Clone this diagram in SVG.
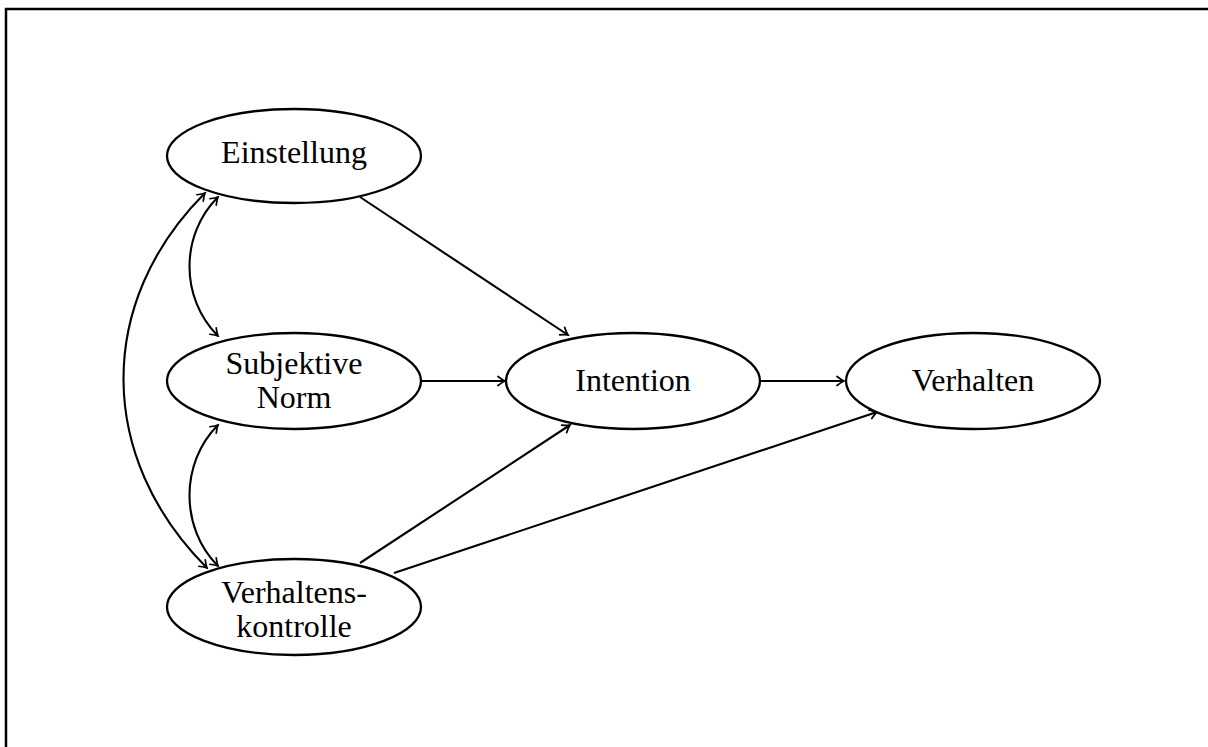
<svg xmlns="http://www.w3.org/2000/svg" width="1208" height="747" viewBox="0 0 1208 747">
<style>
.node ellipse{fill:#fff;stroke:#000;stroke-width:2.3}
.node text{font-family:"Liberation Serif","DejaVu Serif",serif;font-size:32px;fill:#000;text-anchor:middle}
.edge{fill:none;stroke:#000;stroke-width:2.1}
</style>
<defs>
<marker id="arr" markerUnits="userSpaceOnUse" viewBox="-10 -6 12 12" refX="0" refY="0" markerWidth="12" markerHeight="12" orient="auto-start-reverse">
<path d="M-7,-4.5 Q-2.5,-1 0,0 Q-2.5,1 -7,4.5" fill="none" stroke="#000" stroke-width="1.7" stroke-linecap="round"/>
</marker>
</defs>
<rect x="6" y="9" width="1220" height="760" fill="#fff" stroke="#000" stroke-width="2.5"/>
<g id="connectors">
<path class="edge" d="M360,197 L568,335" marker-end="url(#arr)"/>
<path class="edge" d="M422,381 L505,381" marker-end="url(#arr)"/>
<path class="edge" d="M761,381 L844,381" marker-end="url(#arr)"/>
<path class="edge" d="M360,563 L570,425" marker-end="url(#arr)"/>
<path class="edge" d="M394,573 L877,412" marker-end="url(#arr)"/>
<path class="edge" d="M218,197 C180,235 180,298 218,336" marker-start="url(#arr)" marker-end="url(#arr)"/>
<path class="edge" d="M218,425 C180,463 180,528 218,566" marker-start="url(#arr)" marker-end="url(#arr)"/>
<path class="edge" d="M205,193 C95,303 97,458 207,568" marker-start="url(#arr)" marker-end="url(#arr)"/>
</g>
<g id="einstellung" class="node"><ellipse cx="294" cy="156" rx="127" ry="47"/><text x="294" y="163">Einstellung</text></g>
<g id="subjektive-norm" class="node"><ellipse cx="294" cy="381" rx="127" ry="48"/><text x="294" y="374">Subjektive</text><text x="294" y="408">Norm</text></g>
<g id="verhaltenskontrolle" class="node"><ellipse cx="294" cy="607" rx="127" ry="48"/><text x="294" y="603">Verhaltens-</text><text x="294" y="637">kontrolle</text></g>
<g id="intention" class="node"><ellipse cx="633" cy="381" rx="127" ry="48"/><text x="633" y="391">Intention</text></g>
<g id="verhalten" class="node"><ellipse cx="973" cy="381" rx="127" ry="48"/><text x="973" y="391">Verhalten</text></g>
</svg>
